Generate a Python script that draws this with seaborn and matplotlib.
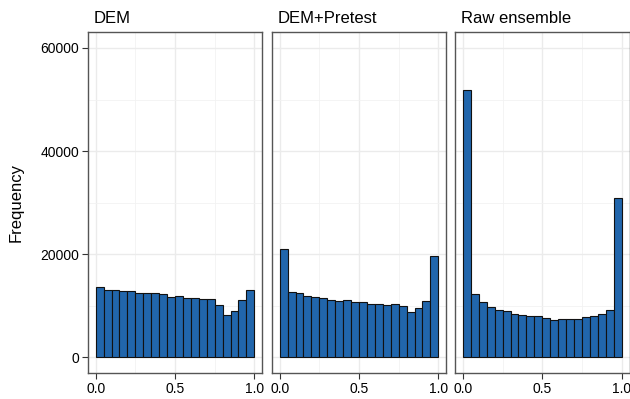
import numpy as np
import pandas as pd
import matplotlib
matplotlib.use("Agg")
import matplotlib.pyplot as plt
import seaborn as sns
from matplotlib.ticker import MultipleLocator

sns.set_theme(style="white")
plt.rcParams['font.family'] = ['Liberation Sans', 'DejaVu Sans']
plt.rcParams['text.color'] = 'black'
plt.rcParams['axes.labelcolor'] = 'black'

panels = ["DEM", "DEM+Pretest", "Raw ensemble"]
bin_edges = [round(0.05 * k, 2) for k in range(21)]
dem_counts = [13720, 13070, 13070, 12880, 12880, 12490, 12490, 12490, 12230, 11780,
              11970, 11520, 11520, 11330, 11330, 10230, 8220, 8930, 11070, 13070]
pretest_counts = [21040, 12690, 12430, 11970, 11780, 11520, 11070, 10940, 11130, 10740,
                  10740, 10420, 10420, 10230, 10420, 10030, 8870, 9580, 10940, 19740]
raw_counts = [51900, 12230, 10680, 9770, 9190, 8930, 8480, 8220, 7960, 7960,
              7570, 7310, 7510, 7510, 7510, 7770, 7960, 8410, 9190, 30940]
all_counts = [dem_counts, pretest_counts, raw_counts]
y_ticks = [0, 20000, 40000, 60000]
x_ticks = [0.0, 0.5, 1.0]
x_tick_labels = ["0.0", "0.5", "1.0"]

W, H = 630, 399
fig = plt.figure(figsize=(W / 100, H / 100), dpi=100)

lefts = [87.7, 271.7, 455.0]
pw = 174.6
top_px, bot_px = 31.7, 373.3

edges = np.array(bin_edges)
centers = (edges[:-1] + edges[1:]) / 2
for i, (name, counts) in enumerate(zip(panels, all_counts)):
    ax = fig.add_axes([lefts[i] / W, 1 - bot_px / H, pw / W, (bot_px - top_px) / H])
    df = pd.DataFrame({"x": centers, "w": counts})
    sns.histplot(data=df, x="x", weights="w", bins=bin_edges, ax=ax,
                 color="#2166AC", edgecolor="#111111", linewidth=0.8, alpha=1)
    ax.set_xlim(-0.05, 1.05)
    ax.set_ylim(-3100, 63150)
    ax.set_xticks(x_ticks)
    ax.set_xticklabels(x_tick_labels)
    ax.xaxis.set_minor_locator(MultipleLocator(0.25))
    ax.yaxis.set_minor_locator(MultipleLocator(10000))
    ax.set_yticks(y_ticks)
    ax.set_axisbelow(True)
    ax.grid(True, which="major", color="#EBEBEB", linewidth=1.0)
    ax.grid(True, which="minor", color="#F2F2F2", linewidth=0.6)
    ax.tick_params(axis="both", which="major", length=4.3, width=0.8, color="#333333",
                   labelsize=10, labelcolor="black", pad=2, direction="out")
    ax.tick_params(axis="both", which="minor", length=0)
    ax.tick_params(axis="x", bottom=True)
    if i == 0:
        ax.tick_params(axis="y", left=True)
        ax.set_ylabel("Frequency", fontsize=12, labelpad=12, color="black")
    else:
        ax.tick_params(axis="y", left=False, labelleft=False)
        ax.set_ylabel("")
    ax.set_xlabel("")
    for s in ax.spines.values():
        s.set_visible(True)
        s.set_color("#555555")
        s.set_linewidth(1.0)
    ax.set_title(name, loc="left", fontsize=12, pad=6, x=0.036, color="black")

fig.savefig("out.png", dpi=100)
